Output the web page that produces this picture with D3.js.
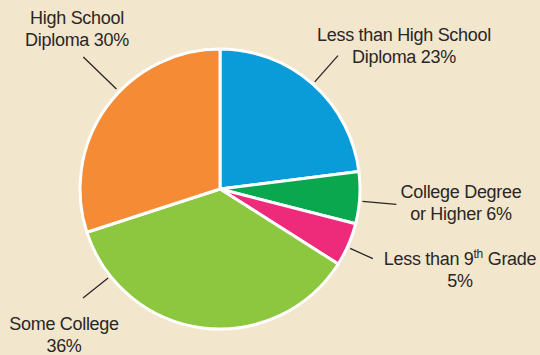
<!DOCTYPE html>
<html>
<head>
<meta charset="utf-8">
<script src="https://cdn.jsdelivr.net/npm/d3@7/dist/d3.min.js"></script>
<style>
  html, body { margin: 0; padding: 0; background: #F2E6CC; }
  svg { display: block; }
  text { font-family: "Liberation Sans Narrow", "Arial Narrow", sans-serif; fill: #2a2627; letter-spacing: -0.3px; }
</style>
</head>
<body>
<svg id="chart" width="540" height="355"></svg>
<script>
// Educational attainment shares, clockwise from 12 o'clock
const categories = ["Less than High School Diploma", "College Degree or Higher", "Less than 9th Grade", "Some College", "High School Diploma"];
const shares = [23, 6, 5, 36, 30];
const colors = ["#0A9CD9", "#0BA74F", "#EE2A7B", "#8DC63F", "#F68B35"];

// Label text lines; "^" marks a superscript run
const labelLines = [
  ["Less than High School", "Diploma 23%"],
  ["College Degree", "or Higher 6%"],
  ["Less than 9^th^ Grade", "5%"],
  ["Some College", "36%"],
  ["High School", "Diploma 30%"]
];

// Placement of labels and leader lines
const labelPos = [[404, 41], [461, 198], [460, 265], [64, 330], [77, 24]];
const leaderAngle = [41.5, 95, 114.5, 231.5, 314];
const leaderLen = [[143, 178], [143, 177], [143, 168], [143, 175], [144, 190]];

const W = 540, H = 355, cx = 220, cy = 189, R = 140;
const svg = d3.select("#chart");

const pie = d3.pie().sort(null).value(d => d.v).startAngle(0).endAngle(2 * Math.PI);
const arc = d3.arc().innerRadius(0).outerRadius(R);
const data = shares.map((v, i) => ({ v, name: categories[i], color: colors[i] }));

const g = svg.append("g").attr("transform", `translate(${cx},${cy})`);
g.selectAll("path.slice")
  .data(pie(data))
  .join("path")
  .attr("class", "slice")
  .attr("d", arc)
  .attr("fill", d => d.data.color)
  .attr("stroke", "#fff")
  .attr("stroke-width", 3)
  .attr("stroke-linejoin", "round");

// Leader lines
const rad = a => a * Math.PI / 180;
g.selectAll("line.leader")
  .data(leaderAngle)
  .join("line")
  .attr("class", "leader")
  .attr("x1", (a, i) => leaderLen[i][0] * Math.sin(rad(a)))
  .attr("y1", (a, i) => -leaderLen[i][0] * Math.cos(rad(a)))
  .attr("x2", (a, i) => leaderLen[i][1] * Math.sin(rad(a)))
  .attr("y2", (a, i) => -leaderLen[i][1] * Math.cos(rad(a)))
  .attr("stroke", "#2a2627")
  .attr("stroke-width", 1.3);

// Labels
labelLines.forEach((lines, i) => {
  const t = svg.append("text")
    .attr("text-anchor", "middle")
    .attr("font-size", 18);
  lines.forEach((line, j) => {
    const parts = line.split("^");
    parts.forEach((p, k) => {
      if (!p) return;
      const ts = t.append("tspan").text(p);
      if (k === 0) ts.attr("x", labelPos[i][0]).attr("y", labelPos[i][1] + j * 22);
      if (k === 1) ts.attr("font-size", 12).attr("dy", -7);
      if (k === 2) ts.attr("dy", 7);
    });
  });
});
</script>
</body>
</html>
